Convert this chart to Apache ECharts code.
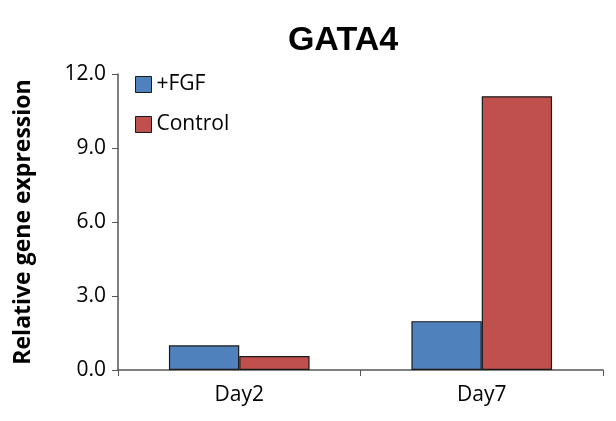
<!DOCTYPE html>
<html>
<head>
<meta charset="utf-8">
<script src="https://cdn.jsdelivr.net/npm/echarts@6/dist/echarts.min.js"></script>
<style>html,body{margin:0;padding:0;background:#fff}#c{width:616px;height:421px}</style>
</head>
<body>
<div id="c"></div>
<script>
const categories = ['Day2', 'Day7'];
const fgfValues = [1.0, 1.98];
const controlValues = [0.57, 11.1];
const seriesNames = ['+FGF', 'Control'];
const yTicks = [0, 3, 6, 9, 12];

const chart = echarts.init(document.getElementById('c'));
const font = 'Open Sans, DejaVu Sans, sans-serif';
chart.setOption({
  animation: false,
  title: {
    text: 'GATA4', left: 338, top: 19, textAlign: 'center',
    textStyle: { fontFamily: 'Liberation Sans, Arial, sans-serif', fontWeight: 'bold', fontSize: 34, color: '#000' }
  },
  legend: {
    orient: 'vertical', left: 130, top: 69, itemGap: 19, itemWidth: 16, itemHeight: 16,
    icon: 'rect',
    data: seriesNames,
    itemStyle: { borderColor: '#1a1a1a', borderWidth: 1 },
    textStyle: { fontFamily: font, fontSize: 21, color: '#000', padding: [0, 0, 0, 0] }
  },
  grid: { left: 118, right: 13, top: 74, bottom: 51 },
  xAxis: {
    type: 'category', data: categories,
    axisLine: { lineStyle: { color: '#555', width: 1.5 } },
    axisTick: { show: true, length: 6, lineStyle: { color: '#555' } },
    axisLabel: { fontFamily: font, fontSize: 21, color: '#000', margin: 15 }
  },
  yAxis: {
    type: 'value', min: 0, max: 12, interval: 3,
    name: 'Relative gene expression', nameLocation: 'middle', nameGap: 83,
    nameTextStyle: { fontFamily: font, fontWeight: 'bold', fontSize: 23, color: '#000' },
    axisLine: { show: true, lineStyle: { color: '#555', width: 1.5 } },
    axisTick: { show: true, length: 6, lineStyle: { color: '#555' } },
    splitLine: { show: false },
    axisLabel: { fontFamily: font, fontSize: 21, color: '#000', margin: 12,
      formatter: v => yTicks.includes(v) ? v.toFixed(1) : '' }
  },
  series: [
    { name: seriesNames[0], type: 'bar', data: fgfValues, barGap: '0%', barCategoryGap: '42%',
      itemStyle: { color: '#4f81bd', borderColor: '#1a1a1a', borderWidth: 1.2 } },
    { name: seriesNames[1], type: 'bar', data: controlValues,
      itemStyle: { color: '#c0504d', borderColor: '#1a1a1a', borderWidth: 1.2 } }
  ]
});
</script>
</body>
</html>
